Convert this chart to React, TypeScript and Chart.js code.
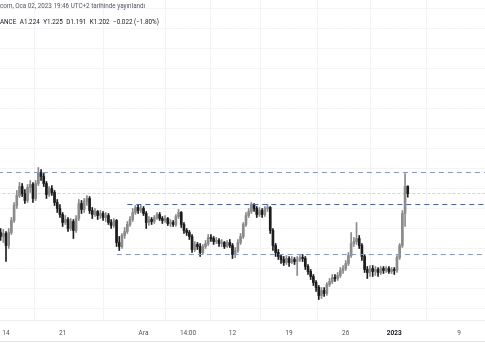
import React, { useEffect, useRef } from 'react';
import { Chart, registerables } from 'chart.js';

Chart.register(...registerables);

// 8-hour candles, first one at Nov 13 08:00 (day axis: days since Nov 13 00:00)
const BAR_DAYS = 1 / 3;
const FIRST_BAR_DAY = 1 / 3;

const OPEN = [
  1.085, 1.073, 1.082, 1.046, 1.085, 1.121, 1.166, 1.196, 1.223, 1.202,
  1.181, 1.220, 1.229, 1.187, 1.232, 1.265, 1.253, 1.232, 1.199, 1.217,
  1.205, 1.175, 1.157, 1.139, 1.115, 1.124, 1.097, 1.118, 1.091, 1.127,
  1.172, 1.154, 1.178, 1.187, 1.151, 1.139, 1.148, 1.136, 1.142, 1.130,
  1.136, 1.115, 1.106, 1.121, 1.055, 1.043, 1.076, 1.088, 1.109, 1.124,
  1.145, 1.160, 1.151, 1.157, 1.142, 1.115, 1.124, 1.118, 1.130, 1.139,
  1.127, 1.121, 1.127, 1.112, 1.115, 1.109, 1.133, 1.145, 1.109, 1.091,
  1.085, 1.073, 1.034, 1.049, 1.043, 1.025, 1.043, 1.052, 1.070, 1.067,
  1.058, 1.061, 1.052, 1.055, 1.043, 1.055, 1.046, 1.019, 1.031, 1.055,
  1.073, 1.109, 1.136, 1.148, 1.169, 1.157, 1.139, 1.151, 1.139, 1.157,
  1.160, 1.091, 1.046, 1.025, 1.013, 1.004, 0.995, 1.007, 0.995, 1.004,
  0.998, 1.004, 1.010, 1.007, 0.983, 0.968, 0.953, 0.935, 0.920, 0.896,
  0.911, 0.902, 0.929, 0.938, 0.950, 0.947, 0.956, 0.971, 0.977, 0.992,
  1.016, 1.052, 1.058, 1.067, 1.046, 1.013, 0.974, 0.965, 0.977, 0.968,
  0.974, 0.965, 0.977, 0.971, 0.977, 0.968, 0.974, 0.971, 1.010, 1.046,
  1.142, 1.224,
];

const HIGH = [
  1.097, 1.094, 1.088, 1.097, 1.130, 1.175, 1.211, 1.235, 1.232, 1.214,
  1.229, 1.241, 1.235, 1.241, 1.280, 1.274, 1.262, 1.238, 1.223, 1.226,
  1.211, 1.184, 1.169, 1.145, 1.136, 1.130, 1.127, 1.124, 1.136, 1.184,
  1.181, 1.187, 1.196, 1.193, 1.160, 1.157, 1.151, 1.151, 1.148, 1.145,
  1.142, 1.124, 1.127, 1.124, 1.073, 1.082, 1.100, 1.118, 1.133, 1.157,
  1.166, 1.169, 1.166, 1.163, 1.148, 1.133, 1.130, 1.136, 1.145, 1.145,
  1.133, 1.136, 1.130, 1.124, 1.121, 1.139, 1.154, 1.148, 1.115, 1.097,
  1.091, 1.079, 1.058, 1.055, 1.052, 1.049, 1.061, 1.079, 1.079, 1.073,
  1.070, 1.067, 1.064, 1.058, 1.061, 1.064, 1.052, 1.040, 1.064, 1.082,
  1.115, 1.145, 1.157, 1.175, 1.172, 1.163, 1.160, 1.157, 1.163, 1.169,
  1.163, 1.097, 1.052, 1.034, 1.019, 1.013, 1.016, 1.013, 1.013, 1.010,
  1.013, 1.016, 1.019, 1.013, 0.989, 0.974, 0.959, 0.941, 0.926, 0.920,
  0.920, 0.935, 0.947, 0.959, 0.959, 0.965, 0.980, 0.986, 1.001, 1.025,
  1.085, 1.070, 1.115, 1.076, 1.052, 1.019, 0.983, 0.986, 0.986, 0.983,
  0.980, 0.983, 0.983, 0.983, 0.983, 0.980, 0.980, 1.016, 1.052, 1.151,
  1.262, 1.225,
];

const LOW = [
  1.061, 1.055, 0.998, 1.037, 1.079, 1.115, 1.157, 1.190, 1.193, 1.172,
  1.175, 1.205, 1.175, 1.181, 1.226, 1.241, 1.223, 1.187, 1.193, 1.196,
  1.166, 1.145, 1.130, 1.103, 1.109, 1.088, 1.091, 1.067, 1.085, 1.121,
  1.142, 1.145, 1.166, 1.142, 1.127, 1.133, 1.124, 1.127, 1.121, 1.118,
  1.109, 1.097, 1.100, 1.043, 1.031, 1.037, 1.067, 1.082, 1.103, 1.118,
  1.139, 1.142, 1.145, 1.136, 1.097, 1.106, 1.109, 1.112, 1.124, 1.121,
  1.112, 1.115, 1.106, 1.103, 1.103, 1.103, 1.127, 1.100, 1.082, 1.076,
  1.064, 1.025, 1.028, 1.034, 1.013, 1.019, 1.037, 1.046, 1.058, 1.049,
  1.052, 1.043, 1.043, 1.037, 1.040, 1.040, 1.007, 1.010, 1.025, 1.049,
  1.067, 1.103, 1.130, 1.142, 1.148, 1.130, 1.133, 1.130, 1.133, 1.148,
  1.082, 1.031, 1.013, 1.004, 0.992, 0.986, 0.989, 0.983, 0.992, 0.989,
  0.956, 0.998, 0.998, 0.974, 0.959, 0.944, 0.926, 0.908, 0.884, 0.887,
  0.893, 0.896, 0.923, 0.932, 0.938, 0.941, 0.950, 0.962, 0.971, 0.986,
  1.010, 1.043, 1.049, 1.037, 1.001, 0.965, 0.947, 0.953, 0.953, 0.956,
  0.953, 0.959, 0.962, 0.965, 0.962, 0.962, 0.959, 0.965, 1.004, 1.040,
  1.103, 1.191,
];

const CLOSE = [
  1.073, 1.082, 1.046, 1.085, 1.121, 1.166, 1.196, 1.223, 1.202, 1.181,
  1.220, 1.229, 1.187, 1.232, 1.265, 1.253, 1.232, 1.199, 1.217, 1.205,
  1.175, 1.157, 1.139, 1.115, 1.124, 1.097, 1.118, 1.091, 1.127, 1.172,
  1.154, 1.178, 1.187, 1.151, 1.139, 1.148, 1.136, 1.142, 1.130, 1.136,
  1.115, 1.106, 1.121, 1.055, 1.043, 1.076, 1.088, 1.109, 1.124, 1.145,
  1.160, 1.151, 1.157, 1.142, 1.115, 1.124, 1.118, 1.130, 1.139, 1.127,
  1.121, 1.127, 1.112, 1.115, 1.109, 1.133, 1.145, 1.109, 1.091, 1.085,
  1.073, 1.034, 1.049, 1.043, 1.025, 1.043, 1.052, 1.070, 1.067, 1.058,
  1.061, 1.052, 1.055, 1.043, 1.055, 1.046, 1.019, 1.031, 1.055, 1.073,
  1.109, 1.136, 1.148, 1.169, 1.157, 1.139, 1.151, 1.139, 1.157, 1.160,
  1.091, 1.046, 1.025, 1.013, 1.004, 0.995, 1.007, 0.995, 1.004, 0.998,
  1.004, 1.010, 1.007, 0.983, 0.968, 0.953, 0.935, 0.920, 0.896, 0.911,
  0.902, 0.929, 0.938, 0.950, 0.947, 0.956, 0.971, 0.977, 0.992, 1.016,
  1.052, 1.058, 1.067, 1.046, 1.013, 0.974, 0.965, 0.977, 0.968, 0.974,
  0.965, 0.977, 0.971, 0.977, 0.968, 0.974, 0.971, 1.010, 1.046, 1.142,
  1.223, 1.202,
];

// drawn horizontal levels (price, start day)
const LEVELS = [1.265, 1.169, 1.019];
const LEVEL_STARTS = [0, 16, 14.7];
const LEVEL_COLORS = ['#719bf8', '#2d62f5', '#719bf8'];
const LAST_PRICE = 1.202;

const TICK_DAYS = [1, 8, 18, 23.5, 29, 36, 43, 49, 57];
const TICK_LABELS = ['14', '21', 'Ara', '14:00', '12', '19', '26', '2023', '9'];
const GRID_PRICES = [0.857, 0.917, 0.977, 1.037, 1.097, 1.157, 1.217, 1.277, 1.337, 1.397, 1.457, 1.517, 1.577, 1.637, 1.697, 1.757];

const HEADER_1 = 'com, Oca 02, 2023 19:46 UTC+2 tarihinde yayınlandı';
const HEADER_2 = ['ANCE', 'A1.224', 'Y1.225', 'D1.191', 'K1.202', '\u22120.022 (\u22121.80%)'];

const X_MIN = 0.2583;
const X_MAX = 60.216;
const Y_MIN = 0.8225;
const Y_MAX = 1.7825;

const UP = '#8b8b8b';
const DOWN = '#1c1c1c';

function App() {
  const ref = useRef<HTMLCanvasElement | null>(null);

  useEffect(() => {
    if (!ref.current) return;
    const xs = CLOSE.map((_, i) => FIRST_BAR_DAY + i * BAR_DAYS);
    const colors = CLOSE.map((c, i) => (c >= OPEN[i] ? UP : DOWN));
    const levelSets: any[] = LEVELS.map((lv, i) => ({
      type: 'line',
      data: [{ x: LEVEL_STARTS[i], y: lv }, { x: 70, y: lv }],
      borderColor: LEVEL_COLORS[i],
      borderWidth: 1,
      borderDash: [5, 4],
      pointRadius: 0,
      order: 0,
    }));
    const chart = new Chart(ref.current, {
      type: 'bar',
      data: {
        datasets: [
          {
            type: 'line',
            data: [{ x: -5, y: LAST_PRICE }, { x: 70, y: LAST_PRICE }],
            borderColor: '#d3d5da',
            borderWidth: 1,
            borderDash: [3, 2],
            pointRadius: 0,
            order: 3,
          } as any,
          {
            type: 'bar',
            data: xs.map((x, i) => ({ x, y: [LOW[i], HIGH[i]] })),
            backgroundColor: colors,
            barThickness: 1,
            grouped: false,
            borderWidth: 0,
            order: 2,
          } as any,
          {
            type: 'bar',
            data: xs.map((x, i) => ({ x, y: [OPEN[i], CLOSE[i]] })),
            backgroundColor: colors,
            barThickness: 2,
            minBarLength: 1,
            grouped: false,
            borderWidth: 0,
            order: 1,
          } as any,
          ...levelSets,
        ],
      },
      options: {
        animation: false,
        responsive: false,
        maintainAspectRatio: false,
        layout: { padding: 0 },
        plugins: { legend: { display: false }, tooltip: { enabled: false } },
        scales: {
          x: {
            type: 'linear',
            min: X_MIN,
            max: X_MAX,
            offset: false,
            afterBuildTicks: (s: any) => {
              s.ticks = TICK_DAYS.map((v) => ({ value: v }));
            },
            afterFit: (s: any) => {
              s.height = 21;
              s.paddingLeft = 0;
              s.paddingRight = 0;
            },
            ticks: {
              autoSkip: false,
              maxRotation: 0,
              padding: 9,
              color: (ctx: any) => (ctx.index === 7 ? '#131722' : '#50535e'),
              font: (ctx: any) => ({
                family: 'Roboto, sans-serif',
                size: 6.5,
                weight: ctx.index === 7 ? 'bold' : 'normal',
              }),
              callback: (_v: any, i: number) => TICK_LABELS[i],
            },
            grid: { color: '#f2f3f5', drawTicks: false },
            border: { display: true, color: '#eceef1' },
          },
          y: {
            type: 'linear',
            min: Y_MIN,
            max: Y_MAX,
            afterBuildTicks: (s: any) => {
              s.ticks = GRID_PRICES.map((v) => ({ value: v }));
            },
            afterFit: (s: any) => {
              s.width = 0;
            },
            ticks: { display: false },
            grid: { color: '#f3f4f6', drawTicks: false },
            border: { display: false },
          },
        },
      },
    });
    return () => chart.destroy();
  }, []);

  return (
    <div style={{ position: 'fixed', left: 0, top: 0, width: 485, height: 360, background: '#fff', overflow: 'hidden' }}>
      <canvas ref={ref} width={485} height={341} style={{ position: 'absolute', left: 0, top: 0, width: 485, height: 341 }} />
      <div style={{ position: 'absolute', left: 0, top: 341, width: 485, height: 1, background: '#e0e3eb' }} />
      <div
        style={{
          position: 'absolute', left: 0, top: 2, fontFamily: 'Roboto, sans-serif', fontSize: 6.3,
          lineHeight: '9px', color: '#50535e', whiteSpace: 'nowrap',
        }}
      >
        {HEADER_1}
      </div>
      <div
        style={{
          position: 'absolute', left: 0, top: 18, fontFamily: 'Roboto, sans-serif', fontSize: 6.3,
          lineHeight: '9px', color: '#131722', whiteSpace: 'nowrap',
        }}
      >
        {HEADER_2.map((t, i) => (
          <span key={i} style={{ marginRight: 3.5 }}>{t}</span>
        ))}
      </div>
    </div>
  );
}

export default App;
